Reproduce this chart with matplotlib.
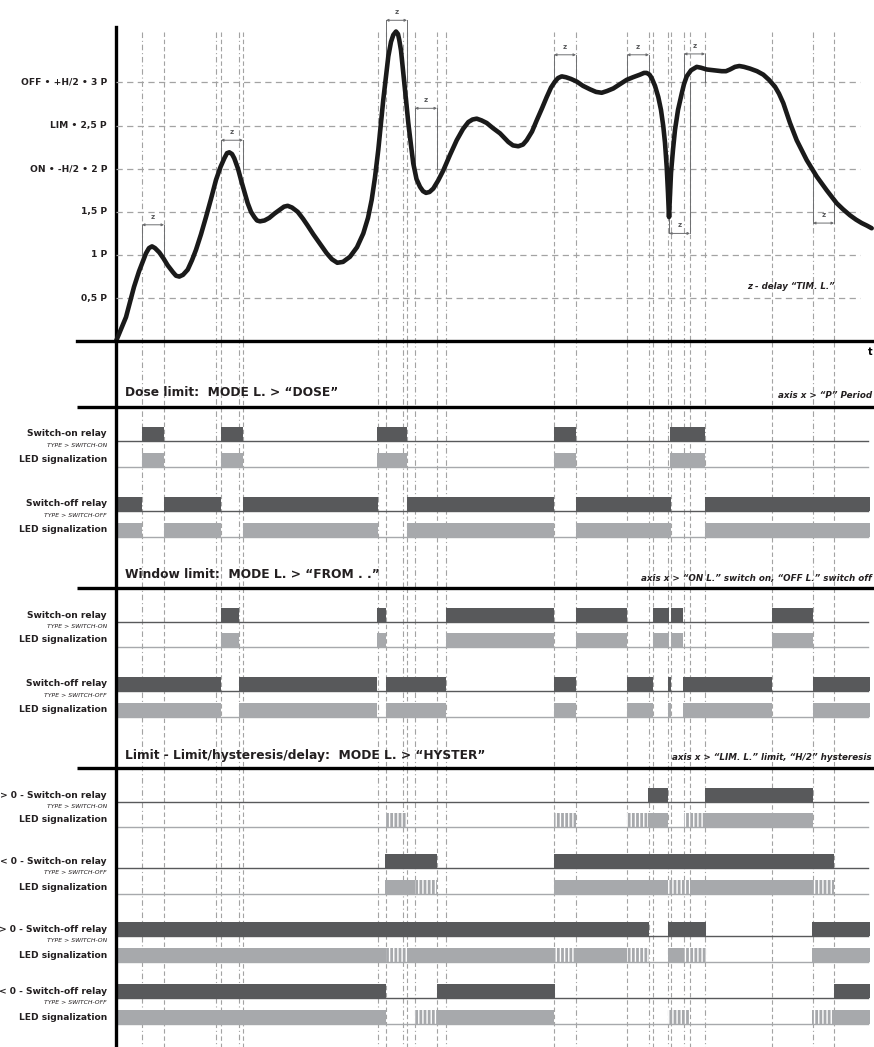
import matplotlib
matplotlib.use('Agg')
import matplotlib.pyplot as plt

plt.rcParams['font.family'] = ['DejaVu Sans']
plt.rcParams['hatch.linewidth'] = 1.0

# -------------------------------------------------------------------------------
# Datos: tiempo t (unidades arbitrarias) y nivel de la senal en periodos P
curve_t = [0.0, 0.5, 1.0, 1.8, 2.3, 2.67, 3.0, 3.3, 3.6, 3.9, 4.33, 4.75, 5.17, 5.7, 6.0,
           6.33, 6.7, 7.17, 7.6, 8.0, 8.5, 9.0, 9.5, 10.0, 10.45, 10.83, 11.1, 11.33,
           11.6, 11.83, 12.2, 12.5, 12.85, 13.17, 13.5, 13.83, 14.1, 14.4, 14.85, 15.33,
           15.85, 16.33, 16.8, 17.17, 17.6, 18.17, 18.7, 19.17, 19.73, 20.4, 21.07, 21.6,
           22.13, 22.7, 23.4, 24.1, 24.73, 25.2, 25.57, 25.9, 26.23, 26.73, 27.23, 27.5,
           27.73, 28.0, 28.2, 28.33, 28.5, 28.73, 29.0, 29.23, 29.5, 29.73, 30.05, 30.4,
           30.7, 31.0, 31.35, 31.73, 32.2, 32.73, 33.4, 34.07, 34.7, 35.23, 35.65, 36.07,
           36.55, 37.07, 37.7, 38.4, 39.23, 39.7, 40.23, 40.7, 41.07, 41.6, 42.07, 42.6,
           43.07, 43.5, 43.9, 44.2, 44.57, 45.0, 45.5, 46.07, 46.7, 47.4, 48.0, 48.57,
           49.1, 49.73, 50.4, 51.07, 51.7, 52.4, 52.8, 53.07, 53.35, 53.57, 53.9, 54.23,
           54.5, 54.73, 54.9, 55.07, 55.2, 55.3, 55.4, 55.5, 55.7, 55.9, 56.2, 56.57,
           56.8, 57.07, 57.5, 58.07, 58.5, 59.07, 59.8, 60.57, 61.0, 61.4, 61.9, 62.33,
           62.8, 63.4, 64.1, 64.73, 65.3, 65.9, 66.3, 66.73, 67.4, 68.07, 69.07, 70.07,
           71.07, 72.07, 72.7, 73.4, 74.0, 74.57, 75.1, 75.57]
curve_p = [0.00, 0.14, 0.28, 0.63, 0.81, 0.92, 1.02, 1.08, 1.10, 1.08, 1.03, 0.96, 0.88,
           0.80, 0.76, 0.75, 0.77, 0.83, 0.94, 1.06, 1.24, 1.44, 1.65, 1.87, 2.02, 2.12,
           2.18, 2.19, 2.17, 2.12, 2.00, 1.87, 1.73, 1.60, 1.50, 1.44, 1.40, 1.39, 1.40,
           1.43, 1.48, 1.52, 1.56, 1.57, 1.55, 1.50, 1.42, 1.34, 1.24, 1.13, 1.02, 0.95,
           0.91, 0.92, 0.98, 1.09, 1.25, 1.43, 1.64, 1.90, 2.22, 2.80, 3.30, 3.47, 3.55,
           3.59, 3.56, 3.49, 3.37, 3.11, 2.80, 2.53, 2.27, 2.06, 1.88, 1.79, 1.74, 1.72,
           1.73, 1.77, 1.86, 1.98, 2.16, 2.33, 2.46, 2.54, 2.57, 2.58, 2.56, 2.53, 2.47,
           2.41, 2.31, 2.27, 2.26, 2.28, 2.33, 2.43, 2.56, 2.70, 2.83, 2.94, 3.01, 3.05,
           3.07, 3.06, 3.04, 3.01, 2.96, 2.92, 2.89, 2.88, 2.90, 2.93, 2.98, 3.03, 3.06,
           3.09, 3.11, 3.11, 3.09, 3.05, 2.96, 2.83, 2.68, 2.49, 2.30, 2.02, 1.72, 1.44,
           1.70, 1.95, 2.22, 2.45, 2.68, 2.87, 2.98, 3.07, 3.14, 3.18, 3.17, 3.15, 3.14,
           3.13, 3.13, 3.15, 3.18, 3.19, 3.18, 3.16, 3.13, 3.09, 3.03, 2.95, 2.87, 2.76,
           2.53, 2.33, 2.10, 1.91, 1.75, 1.60, 1.53, 1.46, 1.41, 1.37, 1.34, 1.31]

levels_p = [0.5, 1, 1.5, 2, 2.5, 3]
level_labels = ['0,5 P', '1 P', '1,5 P', 'ON • -H/2 • 2 P', 'LIM • 2,5 P', 'OFF • +H/2 • 3 P']

event_t = [2.6, 4.8, 10.0, 10.5, 12.3, 12.7, 26.2, 27.0, 28.7, 29.1, 29.9, 32.1, 33.0,
           43.8, 46.0, 51.1, 53.3, 53.7, 55.2, 55.5, 56.8, 57.4, 58.9, 65.6, 69.7, 71.8]

# retardos z: inicio, fin, nivel inicio, nivel fin, nivel de la flecha
z_start = [2.6, 10.5, 27.0, 29.9, 43.8, 51.1, 56.8, 55.3, 69.7]
z_end = [4.8, 12.7, 29.1, 32.1, 46.0, 53.3, 58.9, 57.4, 71.8]
z_from = [1.0, 2.0, 3.0, 2.0, 3.0, 3.0, 3.0, 1.44, 2.0]
z_to = [1.0, 2.0, 3.0, 2.0, 3.0, 3.0, 3.0, 3.0, 1.63]
z_arrow = [1.35, 2.33, 3.72, 2.70, 3.32, 3.32, 3.33, 1.25, 1.37]

# Dose limit
dose_on_relay = [(2.6, 4.8), (10.5, 12.7), (26.1, 29.1), (43.8, 46.0), (55.4, 58.9)]
dose_on_led = [(2.6, 4.8, 's'), (10.5, 12.7, 's'), (26.1, 29.1, 's'), (43.8, 46.0, 's'),
               (55.4, 58.9, 's')]
dose_off_relay = [(0, 2.6), (4.8, 10.5), (12.7, 26.2), (29.1, 43.8), (46.0, 55.5), (58.9, 75.4)]
dose_off_led = [(0, 2.6, 's'), (4.8, 10.5, 's'), (12.7, 26.2, 's'), (29.1, 43.8, 's'),
                (46.0, 55.5, 's'), (58.9, 75.4, 's')]

# Window limit
win_on_relay = [(10.5, 12.3), (26.1, 27.0), (33.0, 43.8), (46.0, 51.1), (53.7, 55.3),
                (55.5, 56.7), (65.6, 69.7)]
win_on_led = [(10.5, 12.3, 's'), (26.1, 27.0, 's'), (33.0, 43.8, 's'), (46.0, 51.1, 's'),
              (53.7, 55.3, 's'), (55.5, 56.7, 's'), (65.6, 69.7, 's')]
win_off_relay = [(0, 10.5), (12.3, 26.1), (27.0, 33.0), (43.8, 46.0), (51.1, 53.7),
                 (55.2, 55.5), (56.7, 65.6), (69.7, 75.4)]
win_off_led = [(0, 10.5, 's'), (12.3, 26.1, 's'), (27.0, 33.0, 's'), (43.8, 46.0, 's'),
               (51.1, 53.7, 's'), (55.2, 55.5, 's'), (56.7, 65.6, 's'), (69.7, 75.4, 's')]

# Hysteresis limit
hys_pos_on_relay = [(53.2, 55.2), (58.9, 69.7)]
hys_pos_on_led = [(26.9, 29.1, 'h'), (43.8, 46.0, 'h'), (51.1, 53.2, 'h'), (53.2, 55.2, 's'),
                  (56.8, 58.9, 'h'), (58.9, 69.7, 's')]
hys_neg_on_relay = [(26.9, 32.1), (43.8, 71.8)]
hys_neg_on_led = [(26.9, 29.9, 's'), (29.9, 32.1, 'h'), (43.8, 55.2, 's'), (55.2, 57.4, 'h'),
                  (57.4, 69.7, 's'), (69.7, 71.8, 'h')]
hys_pos_off_relay = [(0, 53.3), (55.2, 59.0), (69.6, 75.4)]
hys_pos_off_led = [(0, 27.0, 's'), (27.0, 29.1, 'h'), (29.1, 43.8, 's'), (43.8, 46.0, 'h'),
                   (46.0, 51.1, 's'), (51.1, 53.3, 'h'), (55.2, 56.8, 's'), (56.8, 59.0, 'h'),
                   (69.6, 75.4, 's')]
hys_neg_off_relay = [(0, 27.0), (32.1, 43.9), (71.8, 75.4)]
hys_neg_off_led = [(0, 27.0, 's'), (29.9, 32.1, 'h'), (32.1, 43.8, 's'), (55.2, 57.4, 'h'),
                   (69.6, 71.8, 'h'), (71.8, 75.4, 's')]
# -------------------------------------------------------------------------------

DARK = '#58595b'
LIGHT = '#a7a9ac'
GRID = '#a3a3a3'
T_MAX = 75.2

fig = plt.figure(figsize=(8.74, 10.47), dpi=100)

# eje inferior: y en pixeles de maquetacion
ax = fig.add_axes([0, 0, 1, 1])
ax.set_xlim(-11.6, 75.8)
ax.set_ylim(1047, 0)
ax.axis('off')

# eje superior: y en periodos P
top = fig.add_axes([0, 1 - 345 / 1047, 1, 345 / 1047])
top.set_xlim(-11.6, 75.8)
top.set_ylim(-0.043, 3.955)
top.patch.set_alpha(0)
top.axis('off')

# lineas verticales de eventos
for i, x in enumerate(event_t):
  ls = (0, (5, 2.5, 1, 2.5)) if i % 2 == 0 else (0, (4, 2.5))
  ax.plot([x, x], [32, 1047], color=GRID, lw=0.8, ls=ls, zorder=1)

# ejes principales
ax.plot([0, 0], [27, 1047], color='black', lw=2.4, zorder=6)
top.plot([-3.9, 75.8], [0, 0], color='black', lw=2.4, zorder=6)
ax.hlines([407, 588, 768], -3.9, 75.8, color='black', lw=2.4, zorder=6)

# niveles
for p, lab in zip(levels_p, level_labels):
  top.plot([0, 74.4], [p, p], color=GRID, lw=0.9, ls=(0, (5, 3.5)), zorder=1)
  top.text(-0.9, p, lab, ha='right', va='center', fontsize=6.6, fontweight='bold',
           color='#231f20')

# senal
top.plot(curve_t, curve_p, color='#1a1a1a', lw=3.3, solid_joinstyle='round',
         solid_capstyle='round', zorder=5)

# retardos z
for x1, x2, y1, y2, ya in zip(z_start, z_end, z_from, z_to, z_arrow):
  top.plot([x1, x1], [y1, ya], color='#6d6e70', lw=0.7, zorder=3)
  top.plot([x2, x2], [y2, ya], color='#6d6e70', lw=0.7, zorder=3)
  top.annotate('', xy=(x2, ya), xytext=(x1, ya),
               arrowprops=dict(arrowstyle='<|-|>', color='#6d6e70', lw=0.7,
                               shrinkA=0, shrinkB=0, mutation_scale=3.5))
  top.text((x1 + x2) / 2, ya + 0.06, 'z', ha='center', va='bottom', fontsize=5,
           color='#58595b', fontweight='bold')

top.text(71.9, 0.63, 'z - delay “TIM. L.”', ha='right', va='center', fontsize=6.2,
         fontweight='bold', style='italic', color='#231f20')
ax.text(75.4, 352, 't', ha='center', va='center', fontsize=7, fontweight='bold')


def relay_row(bottom, segs):
  ax.broken_barh([(a, b - a) for a, b in segs], (bottom - 14, 14), facecolor=DARK,
                 zorder=3)
  ax.plot([0, T_MAX], [bottom, bottom], color=DARK, lw=1.0, zorder=3)


def led_row(bottom, segs):
  solid = [(a, b - a) for a, b, k in segs if k == 's']
  hatched = [(a, b - a) for a, b, k in segs if k == 'h']
  ax.broken_barh(solid, (bottom - 14, 14), facecolor=LIGHT, zorder=3)
  if hatched:
    ax.broken_barh(hatched, (bottom - 14, 14), facecolor=LIGHT, edgecolor='white',
                   hatch='||||', lw=0, zorder=3)
  ax.plot([0, T_MAX], [bottom, bottom], color=LIGHT, lw=1.0, zorder=3)


def row_labels(bottom, led_bottom, name, kind):
  ax.text(-0.9, bottom - 7, name, ha='right', va='center', fontsize=6.6,
          fontweight='bold', color='#231f20')
  ax.text(-0.9, bottom + 4.5, kind, ha='right', va='center', fontsize=4.4,
          style='italic', color='#231f20')
  ax.text(-0.9, led_bottom - 7, 'LED signalization', ha='right', va='center',
          fontsize=6.6, fontweight='bold', color='#231f20')


def heading(y, text, note):
  ax.text(0.9, y, text, ha='left', va='center', fontsize=8.8, fontweight='bold',
          color='#231f20', zorder=4)
  # la nota va pegada al borde derecho
  ax.text(75.6, y + 3, note, ha='right', va='center', fontsize=6.3,
          fontweight='bold', style='italic', color='#231f20', zorder=4)


heading(393, 'Dose limit:  MODE L. > “DOSE”', 'axis x > “P” Period')
heading(575, 'Window limit:  MODE L. > “FROM . .”',
        'axis x > “ON L.” switch on, “OFF L.” switch off')
heading(755, 'Limit - Limit/hysteresis/delay:  MODE L. > “HYSTER”',
        'axis x > “LIM. L.” limit, “H/2” hysteresis')

# Dose
relay_row(441, dose_on_relay)
led_row(467, dose_on_led)
row_labels(441, 467, 'Switch-on relay', 'TYPE > SWITCH-ON')
relay_row(511, dose_off_relay)
led_row(537, dose_off_led)
row_labels(511, 537, 'Switch-off relay', 'TYPE > SWITCH-OFF')

# Window
relay_row(622, win_on_relay)
led_row(647, win_on_led)
row_labels(622, 647, 'Switch-on relay', 'TYPE > SWITCH-ON')
relay_row(691, win_off_relay)
led_row(717, win_off_led)
row_labels(691, 717, 'Switch-off relay', 'TYPE > SWITCH-OFF')

# Hyster
relay_row(802, hys_pos_on_relay)
led_row(827, hys_pos_on_led)
row_labels(802, 827, '> 0 - Switch-on relay', 'TYPE > SWITCH-ON')
relay_row(868, hys_neg_on_relay)
led_row(894, hys_neg_on_led)
row_labels(868, 894, '< 0 - Switch-on relay', 'TYPE > SWITCH-OFF')
relay_row(936, hys_pos_off_relay)
led_row(962, hys_pos_off_led)
row_labels(936, 962, '> 0 - Switch-off relay', 'TYPE > SWITCH-ON')
relay_row(998, hys_neg_off_relay)
led_row(1024, hys_neg_off_led)
row_labels(998, 1024, '< 0 - Switch-off relay', 'TYPE > SWITCH-OFF')

plt.savefig('out.png', dpi=100)
